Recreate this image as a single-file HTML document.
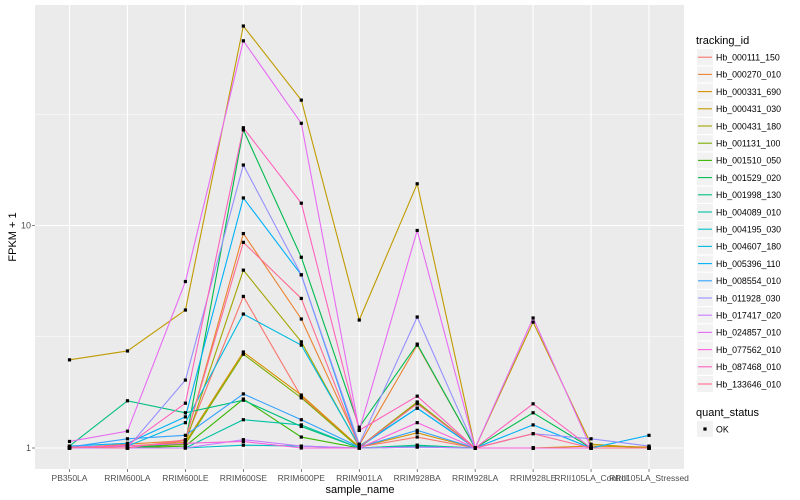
<!DOCTYPE html>
<html><head><meta charset="utf-8"><style>
html,body{margin:0;padding:0;background:#fff;}
svg{display:block;font-family:"Liberation Sans",sans-serif;}
</style></head><body>
<svg id="chart" width="800" height="500" viewBox="0 0 800 500">
<rect x="35" y="5" width="649" height="464" fill="#ebebeb"/>
<g id="grid"></g><g id="lines"></g><g id="points"></g><g id="axes"></g><g id="legend"></g>
</svg>
<script>
const samples = ["PB350LA","RRIM600LA","RRIM600LE","RRIM600SE","RRIM600PE","RRIM901LA","RRIM928BA","RRIM928LA","RRIM928LE","RRII105LA_Control","RRII105LA_Stressed"];
const trackingIds = ["Hb_000111_150","Hb_000270_010","Hb_000331_690","Hb_000431_030","Hb_000431_180","Hb_001131_100","Hb_001510_050","Hb_001529_020","Hb_001998_130","Hb_004089_010","Hb_004195_030","Hb_004607_180","Hb_005396_110","Hb_008554_010","Hb_011928_030","Hb_017417_020","Hb_024857_010","Hb_077562_010","Hb_087468_010","Hb_133646_010"];
const colors = ["#F8766D","#EA8331","#D89000","#C09B00","#A3A500","#7CAE00","#39B600","#00BB4E","#00BF7D","#00C1A3","#00BFC4","#00BAE0","#00B0F6","#35A2FF","#9590FF","#C77CFF","#E76BF3","#FA62DB","#FF62BC","#FF6C91"];
const s000111 = [1.01,1.0,1.08,4.8,1.7,1.01,1.12,1,1.0,1,1];
const s000270 = [1.0,1.04,1.08,9.2,3.8,1.03,2.9,1,1.0,1,1];
const s000331 = [1.0,1.02,1.06,2.7,1.73,1.01,1.17,1,1.0,1.02,1.01];
const s000431a = [2.49,2.73,4.17,78.8,36.6,3.76,15.4,1,3.68,1.04,1.0];
const s000431b = [1.0,1.0,1.05,6.3,3.0,1.01,1.61,1,1.0,1,1];
const s001131 = [1.0,1.0,1.04,2.64,1.68,1.0,1.6,1,1.0,1,1];
const s001510 = [1.0,1.0,1.02,1.66,1.12,1.0,1.02,1,1.0,1,1];
const s001529 = [1.0,1.0,1.05,26.9,7.2,1.24,2.93,1,1.44,1,1];
const s001998 = [1.02,1.63,1.44,1.64,1.25,1.0,1.03,1,1.0,1,1];
const s004089 = [1.0,1.0,1.0,1.34,1.27,1.0,1.02,1,1.0,1,1];
const s004195 = [1.0,1.0,1.0,1.03,1.02,1.0,1.01,1,1.0,1,1];
const s004607 = [1.01,1.02,1.3,4.0,2.9,1.02,1.51,1,1.0,1,1];
const s005396 = [1.02,1.05,1.38,13.3,6.0,1.01,1.51,1,1.27,1,1.14];
const s008554 = [1.01,1.1,1.14,1.75,1.34,1.01,1.2,1,1.0,1,1];
const s011928 = [1.0,1.0,2.02,18.7,6.0,1.04,3.88,1,1.16,1.1,1.02];
const s017417 = [1.0,1.0,1.0,1.09,1.02,1.0,1.01,1,1.0,1,1];
const s024857 = [1.07,1.19,5.6,67.6,28.8,1.2,9.5,1,3.84,1,1];
const s077562 = [1.01,1.02,1.05,1.07,1.0,1.0,1.3,1,1.0,1,1];
const s087468 = [1.0,1.03,1.59,27.5,12.6,1.2,1.71,1,1.58,1,1];
const s133646 = [1.01,1.0,1.09,8.4,4.7,1.01,1.58,1,1.16,1,1];
const seriesValues = [s000111,s000270,s000331,s000431a,s000431b,s001131,s001510,s001529,s001998,s004089,s004195,s004607,s005396,s008554,s011928,s017417,s024857,s077562,s087468,s133646];
const yTicks = [1,10];
const yTickLabels = ["1","10"];
const yMinor = [Math.sqrt(10), Math.sqrt(1000)];

const NS="http://www.w3.org/2000/svg";
const X0=69.5, XSTEP=57.95;
function xScale(i){return X0+i*XSTEP;}
function yScale(v){return 448-Math.log10(v)*222.5;}
function mk(tag,attrs,parent){const e=document.createElementNS(NS,tag);for(const k in attrs)e.setAttribute(k,attrs[k]);parent.appendChild(e);return e;}
const grid=document.getElementById('grid'),lines=document.getElementById('lines'),pts=document.getElementById('points'),axes=document.getElementById('axes'),leg=document.getElementById('legend');

yMinor.forEach(v=>{const l=mk('line',{x1:35,x2:684,y1:yScale(v),y2:yScale(v),stroke:'#fff','stroke-width':0.6},grid);

});
yTicks.forEach((v,i)=>{const l=mk('line',{x1:35,x2:684,y1:yScale(v),y2:yScale(v),stroke:'#fff','stroke-width':1.1},grid);


const t=mk('text',{x:31,y:yScale(v)+3,'text-anchor':'end','font-size':9,fill:'#4d4d4d'},axes);t.textContent=yTickLabels[i];


mk('line',{x1:32,x2:35,y1:yScale(v),y2:yScale(v),stroke:'#333','stroke-width':0.6},axes);});
samples.forEach((s,i)=>{const l=mk('line',{x1:xScale(i),x2:xScale(i),y1:5,y2:469,stroke:'#fff','stroke-width':1.1},grid);


mk('line',{x1:xScale(i),x2:xScale(i),y1:469,y2:472,stroke:'#333','stroke-width':0.6},axes);
const t=mk('text',{x:xScale(i),y:481,'text-anchor':'middle','font-size':8.5,fill:'#4d4d4d'},axes);t.textContent=s;

});

seriesValues.forEach((vals,si)=>{
const p=mk('polyline',{points:vals.map((v,i)=>xScale(i)+','+yScale(v)).join(' '),fill:'none',stroke:colors[si],'stroke-width':1.1},lines);


vals.forEach((v,i)=>{const r=mk('rect',{x:xScale(i)-1.6,y:yScale(v)-1.6,width:3.2,height:3.2,fill:'#000'},pts);

});
});

let t=mk('text',{x:360,y:493,'text-anchor':'middle','font-size':11,fill:'#000'},axes);t.textContent='sample_name';


t=mk('text',{x:0,y:0,'text-anchor':'middle','font-size':11,fill:'#000',transform:'translate(16,237) rotate(-90)'},axes);t.textContent='FPKM + 1';



t=mk('text',{x:696,y:44,'font-size':11,fill:'#000'},leg);t.textContent='tracking_id';


trackingIds.forEach((id,i)=>{const cy=57.2+i*17.2;
const g=mk('g',{},leg);


mk('rect',{x:697,y:cy-8,width:16,height:16,fill:'#f2f2f2'},g);
mk('line',{x1:698,x2:712,y1:cy,y2:cy,stroke:colors[i],'stroke-width':1.1},g);
const tx=mk('text',{x:716,y:cy+3.3,'font-size':8.8,fill:'#000'},g);tx.textContent=id;});
t=mk('text',{x:696,y:416,'font-size':11,fill:'#000'},leg);t.textContent='quant_status';


const g2=mk('g',{},leg);


mk('rect',{x:697,y:421,width:16,height:16,fill:'#f2f2f2'},g2);
mk('rect',{x:703.4,y:427.4,width:3.2,height:3.2,fill:'#000'},g2);
t=mk('text',{x:716,y:432.5,'font-size':8.8,fill:'#000'},g2);t.textContent='OK';
</script>
</body></html>
